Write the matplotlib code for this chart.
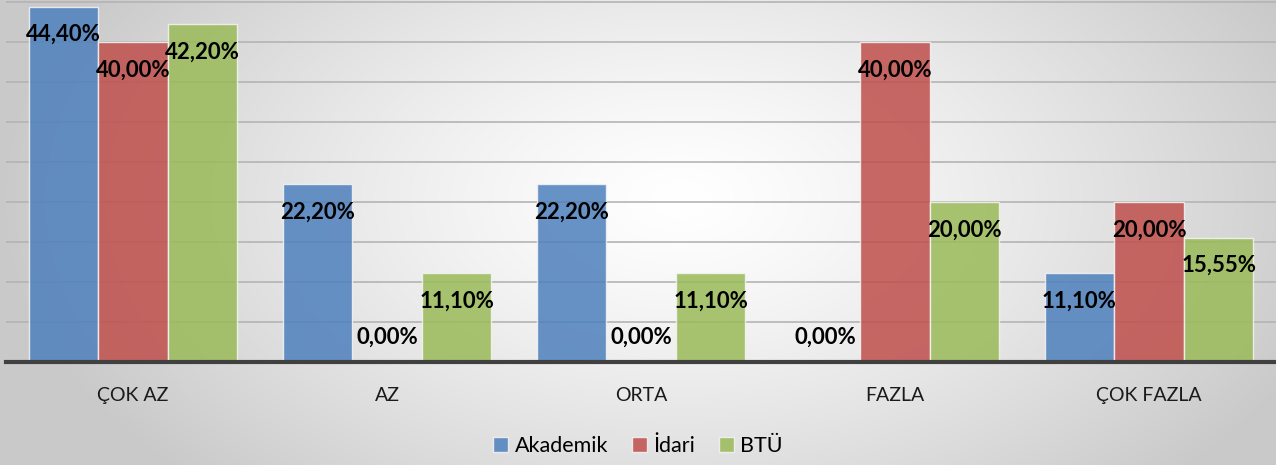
import numpy as np
import matplotlib.pyplot as plt

categories = ["ÇOK AZ", "AZ", "ORTA", "FAZLA", "ÇOK FAZLA"]
akademik = [44.40, 22.20, 22.20, 0.00, 11.10]
idari = [40.00, 0.00, 0.00, 40.00, 20.00]
btu = [42.20, 11.10, 11.10, 20.00, 15.55]
series_names = ["Akademik", "İdari", "BTÜ"]
colors = ["#4F81BD", "#C0504D", "#9BBB59"]

plt.rcParams['font.family'] = ['Lato', 'DejaVu Sans']

W, H = 1276, 465
fig = plt.figure(figsize=(W / 100, H / 100), dpi=100)

# radial grey background
bg = fig.add_axes([0, 0, 1, 1], zorder=-10)
yy, xx = np.mgrid[0:H, 0:W]
r = np.sqrt(((xx - 680) / 680.0) ** 2 + ((yy - 200) / 400.0) ** 2)
r = np.clip(r, 0, 1)
shade = 1.0 - 0.21 * r ** 1.3
bg.imshow(np.dstack([shade] * 3), aspect='auto', extent=[0, 1, 0, 1], origin='upper')
bg.axis('off')

ax = fig.add_axes([6 / W, (H - 362) / H, 1270 / W, 362 / H])
ax.set_facecolor('none')

x = np.arange(len(categories))
width = 0.274
for i, (vals, name, c) in enumerate(zip([akademik, idari, btu], series_names, colors)):
    pos = x + (i - 1) * width
    ax.bar(pos, vals, width, color=c, alpha=0.86, edgecolor='#f4f4f4',
           linewidth=1, label=name, zorder=3)
    for xp, v in zip(pos, vals):
        off = 18 if v == 0 else -20
        ax.annotate(f"{v:.2f}%".replace('.', ','), (xp, v), xytext=(0, off),
                    textcoords='offset points', ha='center', va='center',
                    fontsize=16, fontweight='bold', color='black', zorder=5)

ax.set_xlim(-0.5, len(categories) - 0.5)
ax.set_ylim(0, 45.25)
ax.set_yticks(np.arange(0, 46, 5))
ax.set_yticklabels([])
ax.tick_params(axis='y', length=0)
ax.grid(axis='y', color='#b4b4b4', linewidth=1.2, zorder=1)
ax.set_axisbelow(True)
ax.set_xticks(x)
ax.set_xticklabels(categories, fontsize=14, color='#1a1a1a')
ax.tick_params(axis='x', length=0, pad=18)
for s in ['top', 'right', 'left']:
    ax.spines[s].set_visible(False)
ax.spines['bottom'].set_color('#404040')
ax.spines['bottom'].set_linewidth(3)
ax.spines['bottom'].set_zorder(6)

fig.legend(loc='center', bbox_to_anchor=(0.5, 1 - 446 / H), ncol=3, frameon=False,
           fontsize=15.5, handlelength=0.7, handleheight=0.7, handletextpad=0.3,
           columnspacing=1.1)

fig.savefig("out.png", dpi=100)
